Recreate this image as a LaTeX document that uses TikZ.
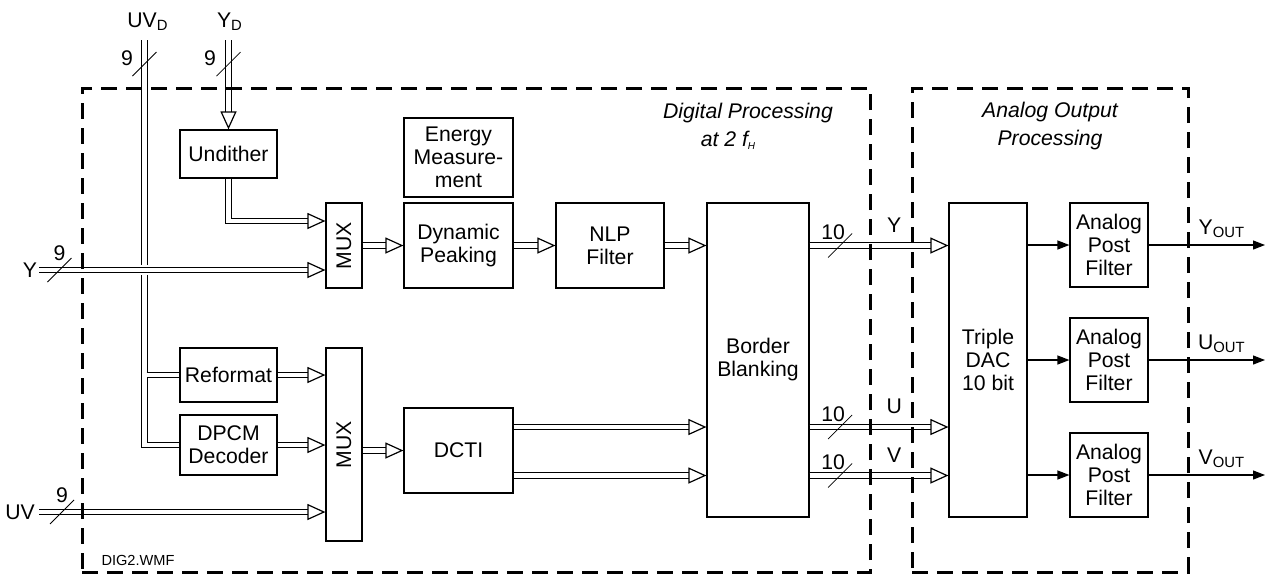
\documentclass[tikz,border=0pt]{standalone}
\usepackage{fontspec}
\setmainfont{Liberation Sans}
\usetikzlibrary{positioning,arrows.meta,calc}

\begin{document}
\begin{tikzpicture}[
    x=0.5pt, y=-0.5pt,
    font=\fontsize{10.6}{11.5}\selectfont,
    blk/.style={rectangle, draw, line width=0.6pt, align=center, inner sep=1pt},
    bus/.style={double, double distance=2.2pt, line width=0.6pt},
    busarrow/.style={bus, -{Triangle[open, length=9pt, width=8pt, line width=0.6pt]}},
    sig/.style={line width=0.6pt, -{Triangle[length=6pt, width=4.5pt]}},
    slash/.style={line width=0.4pt},
    region/.style={draw, line width=1.5pt, dash pattern=on 8pt off 4.5pt},
    title/.style={font=\fontsize{10.6}{14}\selectfont\itshape, align=center}
]
    \useasboundingbox (0,0) rectangle (1267,575);

    % blocks
    \node[blk, minimum width=48.5pt, minimum height=24pt] (undither) at (228.5,154) {Undither};
    \node[blk, minimum width=18pt, minimum height=42.5pt, label={[rotate=90]center:MUX}] (mux1) at (344,245.5) {};
    \node[blk, minimum width=54.5pt, minimum height=39.5pt] (energy) at (458.5,157.5) {Energy\\Measure-\\ment};
    \node[blk, minimum width=54.5pt, minimum height=42.5pt] (dyn) at (458.5,245.5) {Dynamic\\Peaking};
    \node[blk, minimum width=54pt, minimum height=42.5pt] (nlp) at (610,245.5) {NLP\\Filter};
    \node[blk, minimum width=51pt, minimum height=157pt] (border) at (758,360) {Border\\Blanking};
    \node[blk, minimum width=48.5pt, minimum height=27pt] (reformat) at (228.5,375) {Reformat};
    \node[blk, minimum width=48.5pt, minimum height=30pt] (dpcm) at (228.5,445) {DPCM\\Decoder};
    \node[blk, minimum width=18pt, minimum height=96.5pt, label={[rotate=90]center:MUX}] (mux2) at (344,444.5) {};
    \node[blk, minimum width=54.5pt, minimum height=42.5pt] (dcti) at (458.5,450.5) {DCTI};
    \node[blk, minimum width=39pt, minimum height=157pt] (dac) at (988,360) {Triple\\DAC\\10 bit};
    \node[blk, minimum width=39pt, minimum height=42pt] (filtY) at (1109,245) {Analog\\Post\\Filter};
    \node[blk, minimum width=39pt, minimum height=42pt] (filtU) at (1109,360) {Analog\\Post\\Filter};
    \node[blk, minimum width=39pt, minimum height=42pt] (filtV) at (1109,475) {Analog\\Post\\Filter};

    % inputs
    \node[inner sep=1pt] (yin) at (30,270) {Y};
    \node[inner sep=2pt] (uvin) at (20,512) {UV};
    \node (uvdlab) at (148,22) {UV\textsubscript{D}};
    \node (ydlab) at (230,22) {Y\textsubscript{D}};
    \coordinate (uvdtop) at (144.5,40);
    \coordinate (ydtop) at (228.5,40);

    % digital buses
    \draw[bus] (uvdtop) |- (dpcm.west);
    \draw[bus] ($(uvdtop |- reformat.west)+(2.2,0)$) -- (reformat.west);
    \draw[busarrow] (ydtop) -- coordinate[pos=0.27] (ydmark) (undither.north);
    \draw[busarrow] (undither.south) |- ($(mux1.west)+(0,-24.5)$);
    \draw[white, line width=5pt] (yin.east) -- (yin.east -| mux1.west);
    \draw[busarrow] (yin.east) -- coordinate[pos=0.07] (ymark) (yin.east -| mux1.west);
    \draw[busarrow] (mux1.east) -- (dyn.west);
    \draw[busarrow] (dyn.east) -- (nlp.west);
    \draw[busarrow] (nlp.east) -- (nlp.east -| border.west);
    \draw[busarrow] (reformat.east) -- (reformat.east -| mux2.west);
    \draw[busarrow] (dpcm.east) -- (dpcm.east -| mux2.west);
    \draw[busarrow] (uvin.east) -- coordinate[pos=0.08] (uvmark) (uvin.east -| mux2.west);
    \draw[busarrow] (mux2.east |- dcti.west) -- (dcti.west);
    \coordinate (dctiU) at ($(dcti.east)+(0,-23.5)$);
    \coordinate (dctiV) at ($(dcti.east)+(0,25)$);
    \draw[busarrow] (dctiU) -- (dctiU -| border.west);
    \draw[busarrow] (dctiV) -- (dctiV -| border.west);

    % to the DAC
    \draw[busarrow] (border.east |- nlp.east) -- coordinate[pos=0.22] (m10y)
        node[pos=0.61, above=3pt] {Y} (dac.west |- nlp.east);
    \draw[busarrow] (dctiU -| border.east) -- coordinate[pos=0.22] (m10u)
        node[pos=0.61, above=3pt] {U} (dctiU -| dac.west);
    \draw[busarrow] (dctiV -| border.east) -- coordinate[pos=0.22] (m10v)
        node[pos=0.61, above=3pt] {V} (dctiV -| dac.west);

    % bus widths
    \draw[slash] (uvdtop) ++(0,24) +(-12,12) -- +(12,-12);
    \node at (127,58) {9};
    \draw[slash] (ydmark) +(-12,12) -- +(12,-12);
    \node at (210,58) {9};
    \draw[slash] (ymark) +(-12,12) -- +(12,-12);
    \node at ($(ymark)+(0,-17)$) {9};
    \draw[slash] (uvmark) +(-12,12) -- +(12,-12);
    \node at ($(uvmark)+(0,-17)$) {9};
    \foreach \m in {m10y,m10u,m10v} {
        \draw[slash] (\m) +(-12,12) -- +(12,-12);
        \node at ($(\m)+(-7,-13)$) {10};
    }

    % analog outputs
    \coordinate (yout) at (1265,245);
    \coordinate (uout) at (1265,360);
    \coordinate (vout) at (1265,475);
    \draw[sig] (dac.east |- filtY.west) -- (filtY.west);
    \draw[sig] (dac.east |- filtU.west) -- (filtU.west);
    \draw[sig] (dac.east |- filtV.west) -- (filtV.west);
    \draw[sig] (filtY.east) -- node[pos=0.63, above] {Y\textsubscript{OUT}} (yout);
    \draw[sig] (filtU.east) -- node[pos=0.63, above] {U\textsubscript{OUT}} (uout);
    \draw[sig] (filtV.east) -- node[pos=0.63, above] {V\textsubscript{OUT}} (vout);

    % processing regions
    \node[region, minimum width=394pt, minimum height=242pt] (digital) at (476,330) {};
    \node[region, minimum width=138pt, minimum height=242pt] (analog) at (1050,330) {};
    \node[title] at (748,126) {Digital Processing\\at 2 f{\fontsize{5}{5}\selectfont\raisebox{-1.5pt}{H}}\hspace*{20pt}};
    \node[title] at (1050,126) {Analog Output\\Processing};
    \node[font=\fontsize{7.3}{8}\selectfont] at (138,560) {DIG2.WMF};
\end{tikzpicture}
\end{document}
